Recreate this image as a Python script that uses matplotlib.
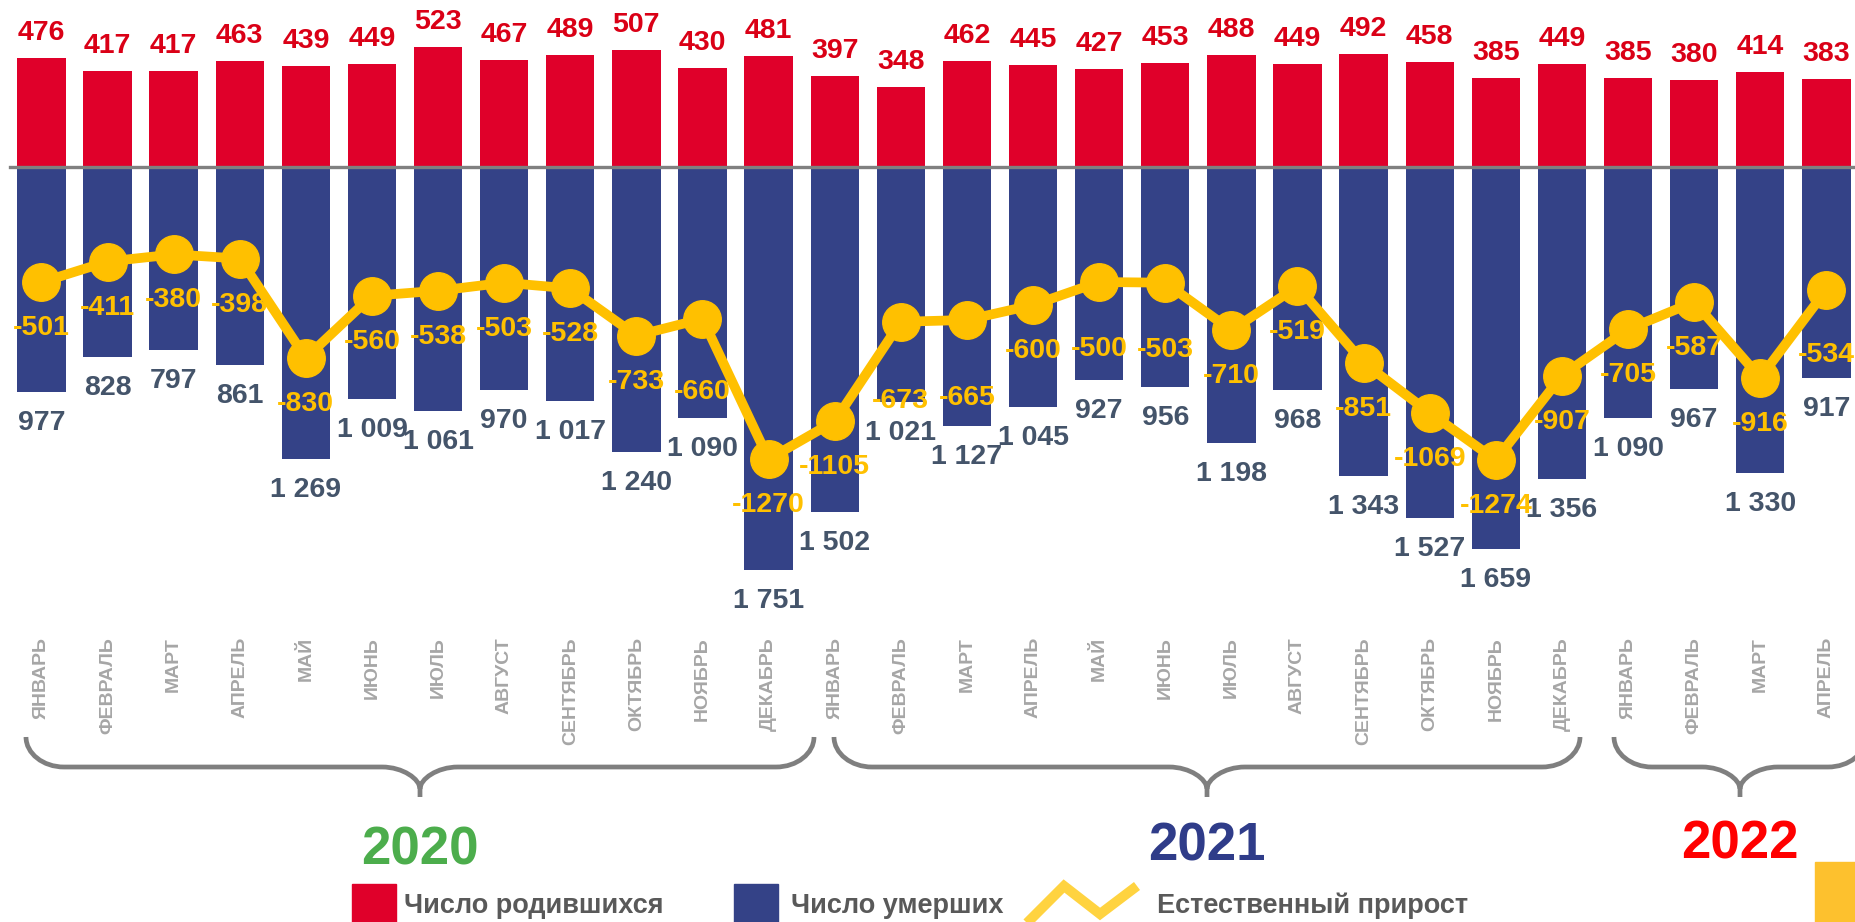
import matplotlib
matplotlib.use('Agg')
import matplotlib.pyplot as plt
from matplotlib.path import Path
from matplotlib.patches import PathPatch, Rectangle

plt.rcParams['font.family'] = ['Liberation Sans', 'DejaVu Sans']

# data
months = ['ЯНВАРЬ', 'ФЕВРАЛЬ', 'МАРТ', 'АПРЕЛЬ', 'МАЙ', 'ИЮНЬ', 'ИЮЛЬ', 'АВГУСТ',
          'СЕНТЯБРЬ', 'ОКТЯБРЬ', 'НОЯБРЬ', 'ДЕКАБРЬ']
year_names = ['2020', '2021', '2022']
months_per_year = [12, 12, 4]
births = [476, 417, 417, 463, 439, 449, 523, 467, 489, 507, 430, 481,
          397, 348, 462, 445, 427, 453, 488, 449, 492, 458, 385, 449,
          385, 380, 414, 383]
deaths = [977, 828, 797, 861, 1269, 1009, 1061, 970, 1017, 1240, 1090, 1751,
          1502, 1021, 1127, 1045, 927, 956, 1198, 968, 1343, 1527, 1659, 1356,
          1090, 967, 1330, 917]
growth = [-501, -411, -380, -398, -830, -560, -538, -503, -528, -733, -660, -1270,
          -1105, -673, -665, -600, -500, -503, -710, -519, -851, -1069, -1274, -907,
          -705, -587, -916, -534]
legend_labels = ['Число родившихся', 'Число умерших', 'Естественный прирост']

# layout (pixels)
growth_label_dy = [53] * 28
for i, d in [(10, 80), (13, 86), (14, 85), (16, 74), (17, 74), (27, 72)]:
    growth_label_dy[i] = d

RED = '#E0002A'
RED_TXT = '#DA0016'
BLUE = '#344287'
GOLD = '#FFC000'
SLATE = '#44546A'
GREY = '#808080'
year_colors = ['#4CAD4C', '#2F3C89', '#FF0000']

W, H = 1856, 922
fig = plt.figure(figsize=(W / 100, H / 100), dpi=100)
ax = fig.add_axes([0, 0, 1, 1])
ax.axis('off')

scale = 0.23        # px per unit
base_px = 167       # baseline from top
x0_px, step_px = 41.4, 66.11
ax.set_xlim(-x0_px / step_px, (W - x0_px) / step_px)
ax.set_ylim(-(H - base_px) / scale, base_px / scale)

x = list(range(len(births)))
ax.bar(x, births, width=0.73, color=RED, zorder=2)
ax.bar(x, [-d for d in deaths], width=0.73, color=BLUE, zorder=2)
ax.plot([-0.48, 28], [0, 0], color=GREY, lw=2.4, zorder=3)
ax.plot(x, growth, color=GOLD, lw=7, marker='o', markersize=27, zorder=4,
        solid_joinstyle='round')

for i in x:
    ax.annotate(str(births[i]), (i, births[i]), xytext=(0, 18), textcoords='offset pixels',
                ha='center', va='baseline', fontsize=20.5, fontweight='bold', color=RED_TXT, zorder=5)
    ax.annotate(f'{deaths[i]:,}'.replace(',', ' '), (i, -deaths[i]), xytext=(0, -38),
                textcoords='offset pixels', ha='center', va='baseline', fontsize=20.5,
                fontweight='bold', color=SLATE, zorder=5)
    ax.annotate(str(growth[i]), (i, growth[i]), xytext=(0, -growth_label_dy[i]),
                textcoords='offset pixels', ha='center', va='baseline', fontsize=20.5,
                fontweight='bold', color=GOLD, zorder=6)

# month labels
labels = []
for n in months_per_year:
    labels += months[:n]
for i, m in enumerate(labels):
    ax.text(i, 1 - 637 / H, m, transform=ax.get_xaxis_transform(), rotation=90,
            ha='center', va='top', fontsize=14, fontweight='bold', color='#A6A6A6')

# overlay in pixel coordinates
ov = fig.add_axes([0, 0, 1, 1])
ov.set_xlim(0, W)
ov.set_ylim(H, 0)
ov.axis('off')


def brace(xl, xr, xc, ytop=737, ymid=767, ytip=789, ystem=797, r=38):
    k = 0.55
    verts = [(xl, ytop), (xl, ytop + k * (ymid - ytop)), (xl + (1 - k) * r, ymid), (xl + r, ymid),
             (xc - r, ymid),
             (xc - (1 - k) * r, ymid), (xc, ymid + k * (ytip - ymid)), (xc, ytip),
             (xc, ystem),
             (xc, ytip), (xc, ymid + k * (ytip - ymid)), (xc + (1 - k) * r, ymid), (xc + r, ymid),
             (xr - r, ymid),
             (xr - (1 - k) * r, ymid), (xr, ytop + k * (ymid - ytop)), (xr, ytop)]
    codes = [Path.MOVETO, Path.CURVE4, Path.CURVE4, Path.CURVE4, Path.LINETO,
             Path.CURVE4, Path.CURVE4, Path.CURVE4, Path.LINETO,
             Path.MOVETO, Path.CURVE4, Path.CURVE4, Path.CURVE4, Path.LINETO,
             Path.CURVE4, Path.CURVE4, Path.CURVE4]
    ov.add_patch(PathPatch(Path(verts, codes), fill=False, edgecolor='#7F7F7F', lw=3.4,
                           capstyle='butt'))


brace_spans = [(26, 814, 420), (834, 1580, 1207), (1614, 1866, 1740)]
year_baselines = [864, 860, 858]
for (xl, xr, xc), name, col, yb in zip(brace_spans, year_names, year_colors, year_baselines):
    brace(xl, xr, xc)
    ov.text(xc, yb, name, ha='center', va='baseline', fontsize=38, fontweight='bold', color=col)

# legend
ov.add_patch(Rectangle((352, 884), 44, 45, color=RED))
ov.text(404, 913, legend_labels[0], ha='left', va='baseline', fontsize=19.5, fontweight='bold',
        color='#595959')
ov.add_patch(Rectangle((734, 884), 44, 45, color=BLUE))
ov.text(791, 913, legend_labels[1], ha='left', va='baseline', fontsize=19.5, fontweight='bold',
        color='#595959')
ov.plot([1018, 1064, 1100, 1137], [932, 886, 914, 886], color='#FFD340', lw=7.2,
        solid_joinstyle='miter', solid_capstyle='butt')
ov.text(1157, 913, legend_labels[2], ha='left', va='baseline', fontsize=19.5, fontweight='bold',
        color='#595959')

# corner tab
ov.add_patch(Rectangle((1815, 862), 50, 70, color='#FDC12E'))

fig.savefig('out.png', dpi=100)
